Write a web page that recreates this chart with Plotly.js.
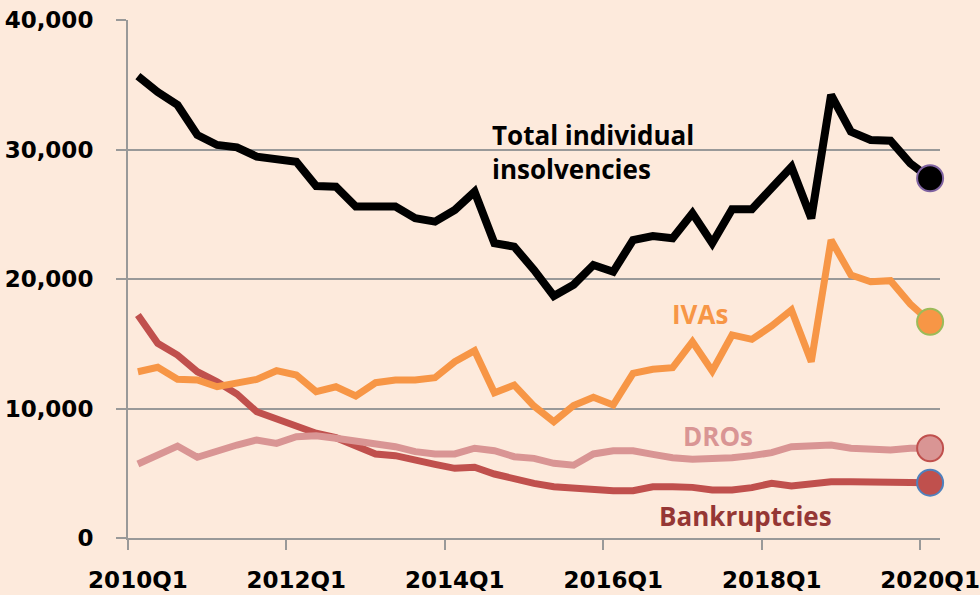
<!DOCTYPE html>
<html>
<head>
<meta charset="utf-8">
<script src="https://cdn.plot.ly/plotly-3.0.1.min.js"></script>
<style>
  html, body { margin: 0; padding: 0; background: #FDEADC; }
  #chart { width: 980px; height: 595px; }
</style>
</head>
<body>
<div id="chart"></div>
<script>
// Quarterly periods 2010Q1 .. 2020Q1
const quarters = [];
for (let y = 2010; y <= 2020; y++) {
  for (let q = 1; q <= 4; q++) {
    if (y === 2020 && q > 1) break;
    quarters.push(y + 'Q' + q);
  }
}

const total = [35670, 34440, 33440, 31120, 30350, 30170, 29450, 29270, 29060, 27180,
               27130, 25590, 25540, 25590, 24690, 24430, 25330, 26740, 22760, 22500,
               20700, 18690, 19560, 21080, 20560, 23010, 23320, 23140, 25070, 22760,
               25380, 25380, 27030, 28650, 24690, 34210, 31380, 30740, 30680, 28930, 27780];

const ivas = [12840, 13180, 12250, 12200, 11680, 11940, 12250, 12920, 12590, 11300,
              11680, 10970, 11990, 12200, 12200, 12380, 13610, 14460, 11220, 11810,
              10190, 8980, 10230, 10870, 10270, 12720, 13030, 13150, 15160, 12900,
              15680, 15340, 16370, 17610, 13610, 23010, 20310, 19790, 19870, 18070, 16700];

const dros = [5710, 6410, 7100, 6230, 6740, 7180, 7570, 7310, 7820, 7900,
              7700, 7490, 7180, 7050, 6670, 6490, 6490, 6930, 6740, 6280,
              6150, 5770, 5620, 6490, 6740, 6740, 6460, 6200, 6080, 6080,
              6200, 6360, 6590, 7050, 7050, 7180, 6930, 6800, 6800, 6930, 6930];

const bankrupt = [17220, 15030, 14130, 12840, 12070, 11120, 9750, 9170, 8650, 8090,
                  7750, 7180, 6490, 6360, 5970, 5690, 5380, 5460, 4940, 4560,
                  4220, 3960, 3840, 3840, 3650, 3650, 3960, 3960, 3910, 3710,
                  3710, 3890, 4220, 4020, 4220, 4350, 4350, 4350, 4300, 4220, 4270];

const labelQuarters = ['2010Q1', '2012Q1', '2014Q1', '2016Q1', '2018Q1', '2020Q1'];
const yTicks = [0, 10000, 20000, 30000, 40000];

const idx = quarters.map((_, i) => i);
const last = quarters.length - 1;
const labelIdx = labelQuarters.map(q => quarters.indexOf(q));

function line(y, color, width, name) {
  return { x: idx, y: y, type: 'scatter', mode: 'lines', name: name,
           line: { color: color, width: width, shape: 'linear' },
           hoverinfo: 'skip', showlegend: false };
}
function endMarker(y, fill, outline, name) {
  return { x: [idx[last]], y: [y[last]], type: 'scatter', mode: 'markers', name: name,
           marker: { size: 26, color: fill, line: { color: outline, width: 2 } },
           hoverinfo: 'skip', showlegend: false, cliponaxis: false };
}

const data = [
  line(bankrupt, '#C0504D', 7, 'Bankruptcies'),
  line(dros, '#D99594', 7, 'DROs'),
  line(ivas, '#F79646', 7, 'IVAs'),
  line(total, '#000000', 8, 'Total'),
  endMarker(total, '#000000', '#8064A2', 'Total end'),
  endMarker(ivas, '#F79646', '#9BBB59', 'IVAs end'),
  endMarker(dros, '#D99594', '#C0504D', 'DROs end'),
  endMarker(bankrupt, '#C0504D', '#4F81BD', 'Bankruptcies end')
];

const annFont = 'Open Sans, sans-serif';
const layout = {
  width: 980, height: 595,
  margin: { l: 128, r: 40, t: 20, b: 57 },
  paper_bgcolor: '#FDEADC',
  plot_bgcolor: '#FDEADC',
  showlegend: false,
  xaxis: {
    range: [-0.5, last + 0.5],
    tickmode: 'array',
    tickvals: labelIdx,
    ticktext: labelQuarters,
    ticks: '',
    showgrid: false,
    zeroline: false,
    showline: true,
    linecolor: '#999999',
    linewidth: 2,
    ticklabelstandoff: 20,
    tickfont: { family: 'DejaVu Sans, sans-serif', size: 23, color: '#000000', weight: 'bold' },
    minor: { tick0: -0.5, dtick: 8, ticks: 'outside', ticklen: 10, tickwidth: 2,
             tickcolor: '#999999', showgrid: false },
    fixedrange: true
  },
  yaxis: {
    range: [0, 40000],
    tickmode: 'array',
    tickvals: yTicks,
    ticktext: yTicks.map(v => v.toLocaleString('en-US')),
    ticks: 'outside',
    ticklen: 10,
    tickwidth: 2,
    tickcolor: '#999999',
    showgrid: true,
    gridcolor: '#999999',
    gridwidth: 2,
    zeroline: false,
    showline: true,
    linecolor: '#999999',
    linewidth: 2,
    ticklabelstandoff: 18,
    tickfont: { family: 'DejaVu Sans, sans-serif', size: 23, color: '#000000', weight: 'bold' },
    fixedrange: true
  },
  annotations: [
    { xref: 'paper', yref: 'paper', x: (490 - 128) / 812, y: (538 - 152) / 518,
      xanchor: 'left', yanchor: 'middle', align: 'left', showarrow: false,
      text: 'Total individual<br>insolvencies',
      font: { family: annFont, size: 26, color: '#000000', weight: 'bold' } },
    { xref: 'paper', yref: 'paper', x: (700 - 128) / 812, y: (538 - 314) / 518,
      xanchor: 'center', yanchor: 'middle', showarrow: false, text: 'IVAs',
      font: { family: annFont, size: 26, color: '#F79646', weight: 'bold' } },
    { xref: 'paper', yref: 'paper', x: (718 - 128) / 812, y: (538 - 436) / 518,
      xanchor: 'center', yanchor: 'middle', showarrow: false, text: 'DROs',
      font: { family: annFont, size: 26, color: '#D99594', weight: 'bold' } },
    { xref: 'paper', yref: 'paper', x: (745 - 128) / 812, y: (538 - 516) / 518,
      xanchor: 'center', yanchor: 'middle', showarrow: false, text: 'Bankruptcies',
      font: { family: annFont, size: 26, color: '#953735', weight: 'bold' } }
  ]
};

Plotly.newPlot('chart', data, layout, { displayModeBar: false, staticPlot: true });
</script>
</body>
</html>
